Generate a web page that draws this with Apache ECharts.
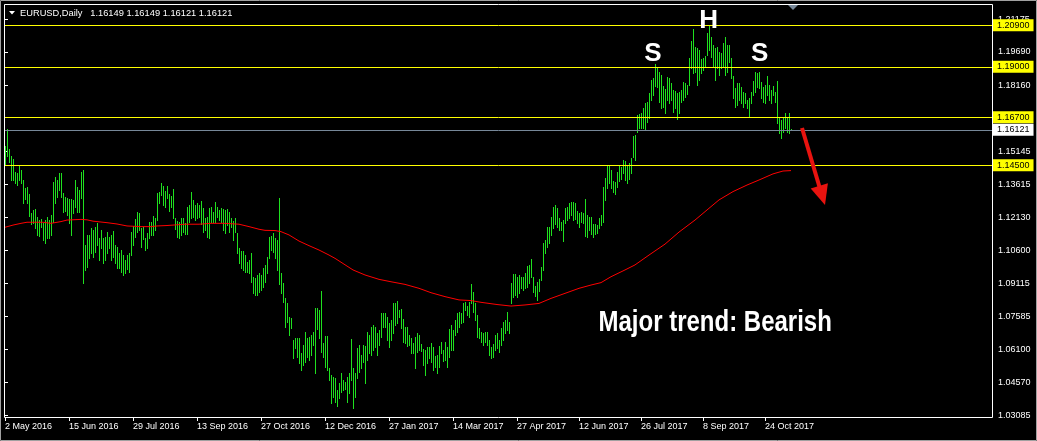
<!DOCTYPE html>
<html><head><meta charset="utf-8">
<script src="https://cdn.jsdelivr.net/npm/echarts@6/dist/echarts.min.js"></script>
<style>html,body{margin:0;padding:0;background:#000;}#c{width:1037px;height:441px;}</style>
</head><body><div id="c"></div>
<script>
// Daily bar highs (EURUSD), one per trading day
var highs = [
1.1538,1.1616,1.1523,1.1493,1.1477,1.1421,1.1414,1.1447,1.1429,1.1383,
1.1345,1.1353,1.1319,1.1231,1.1246,1.1249,1.1216,1.1200,1.1206,1.1185,
1.1200,1.1216,1.1200,1.1223,1.1375,1.1398,1.1383,1.1414,1.1417,1.1325,
1.1307,1.1301,1.1295,1.1295,1.1292,1.1383,1.1353,1.1337,1.1421,1.1429,
1.1086,1.1132,1.1132,1.1162,1.1155,1.1170,1.1185,1.1116,1.1155,1.1116,
1.1124,1.1147,1.1124,1.1132,1.1152,1.1086,1.1078,1.1048,1.1063,1.1040,
1.1018,1.1040,1.1048,1.1147,1.1173,1.1203,1.1238,1.1231,1.1162,1.1170,
1.1116,1.1140,1.1193,1.1193,1.1219,1.1208,1.1322,1.1330,1.1368,1.1356,
1.1335,1.1356,1.1318,1.1311,1.1342,1.1211,1.1196,1.1193,1.1208,1.1208,
1.1185,1.1261,1.1269,1.1330,1.1292,1.1269,1.1276,1.1269,1.1287,1.1257,
1.1211,1.1216,1.1254,1.1261,1.1238,1.1284,1.1261,1.1246,1.1254,1.1251,
1.1246,1.1251,1.1238,1.1211,1.1196,1.1208,1.1139,1.1071,1.1059,1.1059,
1.1040,1.1010,1.1018,1.1048,1.0941,1.0934,1.0949,1.0957,1.0949,1.0980,
1.0995,1.1033,1.1124,1.1129,1.1139,1.1117,1.1109,1.1302,1.0957,1.0911,
1.0842,1.0820,1.0759,1.0751,1.0652,1.0660,1.0663,1.0660,1.0591,1.0629,
1.0690,1.0660,1.0667,1.0675,1.0690,1.0797,1.0797,1.0789,1.0876,1.0637,
1.0670,1.0670,1.0522,1.0492,1.0484,1.0477,1.0423,1.0454,1.0500,1.0469,
1.0462,1.0484,1.0500,1.0655,1.0522,1.0500,1.0614,1.0629,1.0583,1.0629,
1.0625,1.0690,1.0675,1.0713,1.0720,1.0713,1.0682,1.0698,1.0774,1.0777,
1.0774,1.0759,1.0728,1.0743,1.0819,1.0819,1.0830,1.0789,1.0794,1.0746,
1.0713,1.0713,1.0675,1.0663,1.0637,1.0667,1.0682,1.0675,1.0634,1.0609,
1.0606,1.0621,1.0618,1.0640,1.0621,1.0579,1.0583,1.0625,1.0644,1.0606,
1.0644,1.0621,1.0701,1.0720,1.0698,1.0743,1.0774,1.0781,1.0777,1.0822,
1.0827,1.0807,1.0827,1.0908,1.0873,1.0819,1.0766,1.0705,1.0690,1.0682,
1.0690,1.0690,1.0652,1.0618,1.0634,
1.0675,1.0683,1.0652,1.0705,1.0736,1.0743,1.0781,1.0736,1.0911,1.0954,
1.0954,1.0941,1.0949,1.0941,1.0938,1.0957,1.0990,1.0995,1.1021,1.0938,
1.0899,1.0919,1.0929,1.0987,1.1094,1.1109,1.1167,1.1167,1.1216,1.1261,
1.1269,1.1254,1.1208,1.1193,1.1200,1.1254,1.1261,1.1276,1.1284,1.1284,
1.1276,1.1243,1.1234,1.1238,1.1234,1.1295,1.1223,1.1212,1.1216,1.1182,
1.1182,1.1178,1.1208,1.1223,1.1353,1.1391,1.1447,1.1447,1.1429,1.1380,
1.1376,1.1421,1.1447,1.1444,1.1474,1.1471,1.1447,1.1462,1.1482,
1.1584,1.1589,1.1680,1.1685,1.1688,1.1711,1.1733,1.1741,1.1779,1.1840,
1.1848,1.1913,1.1893,1.1878,1.1863,1.1813,1.1797,1.1852,1.1848,1.1825,
1.1794,1.1791,1.1779,1.1787,1.1794,1.1832,1.1828,1.1817,1.1939,1.2020,
1.2072,1.1992,1.1985,1.1977,1.1935,1.1939,1.1950,1.2053,1.2091,1.2038,
1.2000,1.1985,1.1992,1.1970,1.1962,1.2008,1.2038,1.2000,1.2000,1.1939,
1.1858,1.1802,1.1825,1.1825,1.1810,1.1787,1.1779,1.1749,1.1756,1.1787,
1.1837,1.1878,1.1874,1.1878,1.1832,1.1807,1.1817,1.1858,1.1817,1.1794,
1.1813,1.1787,1.1837,1.1665,1.1657,1.1665,1.1688,1.1673,1.1688,1.16149
];
// Daily bar lows
var lows = [
1.1452,1.1493,1.1464,1.1383,1.1383,1.1368,1.1360,1.1383,1.1368,1.1280,
1.1295,1.1277,1.1219,1.1182,1.1185,1.1162,1.1132,1.1127,1.1170,1.1109,
1.1097,1.1116,1.1116,1.1132,1.1193,1.1277,1.1307,1.1337,1.1304,1.1238,
1.1243,1.1223,1.1185,1.1132,1.1231,1.1258,1.1238,1.1238,1.1299,1.0911,
1.0972,1.0987,1.1025,1.1048,1.1033,1.1056,1.1086,1.1018,1.1071,1.1002,
1.1018,1.1048,1.1071,1.1018,1.1033,1.1002,1.0979,1.0979,1.0964,1.0949,
1.0957,1.0975,1.0964,1.1040,1.1086,1.1121,1.1147,1.1155,1.1078,1.1112,
1.1063,1.1071,1.1116,1.1132,1.1132,1.1155,1.1200,1.1280,1.1314,1.1269,
1.1260,1.1299,1.1241,1.1261,1.1211,1.1159,1.1124,1.1120,1.1132,1.1144,
1.1135,1.1135,1.1193,1.1208,1.1216,1.1200,1.1208,1.1216,1.1181,1.1147,
1.1155,1.1124,1.1120,1.1193,1.1193,1.1193,1.1216,1.1200,1.1193,1.1155,
1.1139,1.1178,1.1147,1.1170,1.1109,1.1147,1.1048,1.1002,1.0979,1.0972,
1.0964,1.0964,1.0957,1.0919,1.0865,1.0858,1.0858,1.0873,1.0880,1.0896,
1.0919,1.0957,1.1025,1.1063,1.1053,1.1025,1.0972,1.0906,1.0865,1.0827,
1.0713,1.0736,1.0675,1.0705,1.0568,1.0614,1.0576,1.0545,1.0515,1.0538,
1.0553,1.0576,1.0561,1.0584,1.0629,1.0500,1.0702,1.0660,1.0599,1.0576,
1.0527,1.0515,1.0469,1.0362,1.0393,1.0370,1.0350,1.0385,1.0416,1.0423,
1.0430,1.0370,1.0408,1.0469,1.0340,1.0393,1.0477,1.0507,1.0522,1.0553,
1.0454,1.0560,1.0591,1.0583,1.0606,1.0621,1.0583,1.0629,1.0667,1.0713,
1.0713,1.0652,1.0621,1.0652,1.0682,1.0720,1.0728,1.0759,1.0705,1.0644,
1.0637,1.0625,1.0629,1.0591,1.0591,1.0522,1.0599,1.0606,1.0603,1.0538,
1.0492,1.0545,1.0568,1.0553,1.0515,1.0530,1.0500,1.0530,1.0591,1.0557,
1.0560,1.0530,1.0573,1.0606,1.0606,1.0675,1.0690,1.0713,1.0728,1.0736,
1.0789,1.0766,1.0759,1.0819,1.0781,1.0743,1.0667,1.0660,1.0644,1.0629,
1.0644,1.0629,1.0583,1.0568,1.0576,
1.0606,1.0614,1.0599,1.0629,1.0652,1.0683,1.0698,1.0683,1.0820,1.0850,
1.0858,1.0850,1.0865,1.0888,1.0880,1.0888,1.0896,1.0911,1.0941,1.0873,
1.0853,1.0835,1.0877,1.0926,1.0972,1.1051,1.1075,1.1094,1.1132,1.1162,
1.1182,1.1167,1.1155,1.1155,1.1106,1.1185,1.1200,1.1208,1.1223,1.1200,
1.1203,1.1185,1.1167,1.1193,1.1185,1.1127,1.1121,1.1155,1.1136,1.1124,
1.1136,1.1142,1.1162,1.1178,1.1193,1.1292,1.1345,1.1371,1.1345,1.1330,
1.1319,1.1353,1.1380,1.1386,1.1414,1.1383,1.1371,1.1386,1.1414,
1.1490,1.1475,1.1604,1.1619,1.1619,1.1619,1.1612,1.1650,1.1665,1.1749,
1.1772,1.1813,1.1807,1.1741,1.1711,1.1718,1.1688,1.1749,1.1733,1.1749,
1.1695,1.1711,1.1660,1.1688,1.1741,1.1749,1.1764,1.1776,1.1817,1.1893,
1.1874,1.1878,1.1817,1.1840,1.1871,1.1886,1.1901,1.1954,1.1977,1.1947,
1.1901,1.1840,1.1893,1.1863,1.1893,1.1901,1.1863,1.1878,1.1924,1.1848,
1.1756,1.1718,1.1726,1.1749,1.1733,1.1718,1.1733,1.1711,1.1673,1.1733,
1.1772,1.1787,1.1807,1.1802,1.1756,1.1741,1.1733,1.1772,1.1749,1.1733,
1.1772,1.1741,1.1642,1.1596,1.1574,1.1604,1.1619,1.1604,1.1600,1.16121
];
// Moving average (red) sampled at bar indices
var maIndex = [0,4,8,11,19,23,28,31,38,41,44,51,56,61,68,73,76,81,90,97,103,110,117,122,127,130,135,138,142,147,152,157,162,165,174,180,187,193,200,207,213,220,227,233,238,246,253,260,267,273,280,287,293,298,303,310,315,322,330,337,345,351,357,364,371,377,384,389,393];
var maValue = [1.1167,1.1177,1.1185,1.1190,1.1190,1.1185,1.1193,1.1200,1.1203,1.1201,1.1195,1.1188,1.1182,1.1173,1.1170,1.1170,1.1173,1.1175,1.1181,1.1181,1.1185,1.1185,1.1181,1.1170,1.1158,1.1153,1.1152,1.1147,1.1132,1.1104,1.1083,1.1063,1.1040,1.1025,1.0972,1.0949,1.0929,1.0918,1.0906,1.0888,1.0868,1.0850,1.0835,1.0832,1.0824,1.0814,1.0807,1.0812,1.0819,1.0842,1.0865,1.0888,1.0903,1.0914,1.0941,1.0972,1.0995,1.1040,1.1090,1.1145,1.1200,1.1246,1.1292,1.1330,1.1360,1.1383,1.1411,1.1424,1.1426];
// Horizontal levels (yellow) and current price
var levels = [1.20900, 1.19000, 1.16700, 1.14500];
var currentPrice = 1.16121;
// Price scale tick labels
var yTicks = [1.03085,1.04570,1.06100,1.07585,1.09115,1.10600,1.12130,1.13615,1.15145,1.18160,1.19690,1.21175];
// Time scale labels and the bar they belong to
var xTickIndex = [0,32,64,96,128,160,192,224,256,287,318,349,380];
var xTickLabels = ['2 May 2016','15 Jun 2016','29 Jul 2016','13 Sep 2016','27 Oct 2016','12 Dec 2016','27 Jan 2017','14 Mar 2017','27 Apr 2017','12 Jun 2017','26 Jul 2017','8 Sep 2017','24 Oct 2017'];
var header = 'EURUSD,Daily   1.16149 1.16149 1.16121 1.16121';

var FONT = "'Liberation Sans', Arial, sans-serif";
var bars = highs.map(function(h, i){ return [i, h, lows[i]]; });
var ma = maIndex.map(function(ix, k){ return [ix, maValue[k]]; });

var markData = levels.map(function(v){
  return {yAxis: v, lineStyle:{color:'#ffff00', width:1, type:'solid'},
    label:{show:true, position:'end', distance:1, formatter: v.toFixed(5), backgroundColor:'#ffff00', color:'#000', fontSize:9, fontFamily:FONT, padding:[2,4,1,4]}};
});
markData.push({yAxis: currentPrice, lineStyle:{color:'#778899', width:1, type:'solid'},
  label:{show:true, position:'end', distance:1, formatter: currentPrice.toFixed(5), backgroundColor:'#ffffff', color:'#000', fontSize:9, fontFamily:FONT, padding:[2,4,1,4]}});

var chart = echarts.init(document.getElementById('c'), null, {renderer:'canvas'});
chart.setOption({
  animation:false,
  backgroundColor:'#000',
  grid:{left:5, right:45, top:4, bottom:23, show:false},
  xAxis:{type:'value', min:0, max:493.5, splitLine:{show:false}, axisLine:{show:false},
    axisTick:{show:true, customValues:xTickIndex, length:3, lineStyle:{color:'#fff'}},
    axisLabel:{customValues:xTickIndex, align:'left', margin:4, color:'#fff', fontSize:9, fontFamily:FONT,
      formatter:function(v){ var k = xTickIndex.indexOf(Math.round(v)); return k>=0 ? xTickLabels[k] : ''; }}},
  yAxis:{type:'value', position:'right', min:1.02954, max:1.21873, splitLine:{show:false}, axisLine:{show:false}, scale:true,
    axisTick:{show:true, customValues:yTicks, length:3, lineStyle:{color:'#fff'}},
    axisLabel:{customValues:yTicks, margin:6, color:'#fff', fontSize:9, fontFamily:FONT,
      formatter:function(v){ return v.toFixed(5); }}},
  series:[
    {type:'custom', clip:false, data:bars, encode:{x:0, y:[1,2]},
      renderItem:function(params, api){
        var hi = api.coord([api.value(0), api.value(1)]);
        var lo = api.coord([api.value(0), api.value(2)]);
        var x = Math.round(hi[0]) + 0.5;
        return {type:'line', shape:{x1:x, y1:Math.round(hi[1]), x2:x, y2:Math.round(lo[1]) + 1},
          style:{stroke:'#1fe01f', lineWidth:1}};
      }},
    {type:'line', data:ma, showSymbol:false, symbol:'none', lineStyle:{color:'#ff0000', width:1}, z:3,
      markLine:{silent:true, precision:5, symbol:['none','none'], animation:false, data:markData, z:5}}
  ],
  graphic:[
    {type:'rect', shape:{x:0.5, y:0.5, width:1036, height:440}, style:{fill:null, stroke:'#a0a0a0', lineWidth:1}, z:100},
    {type:'rect', shape:{x:4.5, y:4.5, width:988, height:413}, style:{fill:null, stroke:'#ffffff', lineWidth:1}, z:100},
    {type:'polygon', shape:{points:[[9,11],[15,11],[12,14.5]]}, style:{fill:'#ffffff'}, z:100},
    {type:'text', style:{text:header, x:20, y:13, fill:'#ffffff', font:'9.3px ' + FONT, textVerticalAlign:'middle'}, z:100},
    {type:'polygon', shape:{points:[[788,5],[798,5],[793,10]]}, style:{fill:'#778899'}, z:100},
    {type:'text', style:{text:'S', x:653, y:53.5, fill:'#ffffff', font:'bold 26px ' + FONT, textAlign:'center', textVerticalAlign:'middle'}, z:100},
    {type:'text', style:{text:'H', x:708.7, y:21.2, fill:'#ffffff', font:'bold 26px ' + FONT, textAlign:'center', textVerticalAlign:'middle'}, z:100},
    {type:'text', style:{text:'S', x:759.7, y:53.6, fill:'#ffffff', font:'bold 26px ' + FONT, textAlign:'center', textVerticalAlign:'middle'}, z:100},
    {type:'text', x:598.5, y:322.5, scaleX:0.8, style:{text:'Major trend: Bearish', x:0, y:0, fill:'#ffffff', font:'bold 30px ' + FONT, textVerticalAlign:'middle'}, z:100},
    {type:'line', shape:{x1:802, y1:128, x2:819.5, y2:187}, style:{stroke:'#e8130f', lineWidth:4}, z:100},
    {type:'polygon', shape:{points:[[810.7,188.4],[827.9,183.2],[825,205]]}, style:{fill:'#e8130f'}, z:100}
  ]
});
</script></body></html>
